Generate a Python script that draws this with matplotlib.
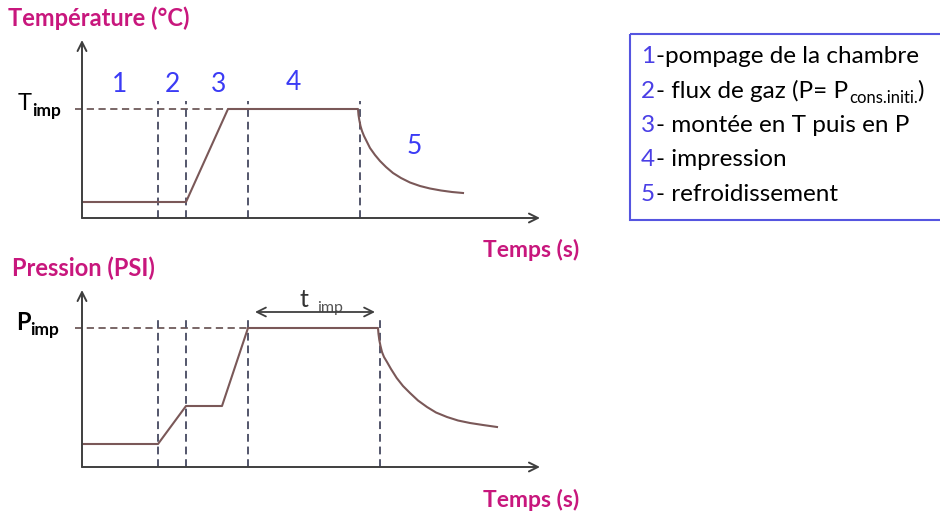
import matplotlib
matplotlib.use('Agg')
import matplotlib.pyplot as plt
from matplotlib.patches import Rectangle

plt.rcParams['font.family'] = ['Lato', 'DejaVu Sans']

# --- donnees (unites arbitraires, lues sur le schema) ---
# temperature : temps / niveau
temps_T = [0, 104, 146, 276, 276.5, 277.3, 278.5, 280, 282, 285, 288, 293, 298, 304,
           311, 319, 328, 338, 348, 359, 370, 381]
temp_T = [16, 16, 109, 109, 103, 98, 92, 87, 82, 76, 70, 63, 57, 51,
          45, 40, 35.5, 32, 29.5, 27.5, 26, 25]
phases_T = [76, 104, 166, 278]
T_imp = 109
fin_T_imp = 146

# pression : temps / niveau
temps_P = [0, 76, 104, 140, 166, 296, 296.5, 297.3, 298.5, 300, 302, 305, 309, 314.7,
           321, 328, 336, 345, 354, 365, 376, 388, 401, 415]
pres_P = [23, 23, 61, 61, 139, 139, 133, 127, 121, 115, 110, 105, 98, 89,
          81, 74, 66.5, 60, 54.5, 50, 46.5, 44, 42, 40]
phases_P = [76, 104, 166, 298]
P_imp = 139
fin_P_imp = 166
t_imp = [173, 293]

etapes = ['1', '2', '3', '4', '5']
etapes_x = [38, 90, 137, 211, 332]
etapes_y = [133, 133, 133, 136, 71]

legende_num = ['1', '2', '3', '4', '5']
# chaque ligne : liste de morceaux (texte, indice ?)
legende_txt = [[('-pompage de la chambre', False)],
               [('- flux de gaz (P= P', False), ('cons.initi.', True), (')', False)],
               [('- montée en T puis en P', False)],
               [('- impression', False)],
               [('- refroidissement', False)]]

rose = '#C8177D'
bleu = '#3B3BF5'
courbe = '#7A5858'
tirets = '#53566B'
axe = '#3F3F3F'

W, H = 940, 517
fig = plt.figure(figsize=(W / 100, H / 100), dpi=100)

# calque en pixels pour les textes
ov = fig.add_axes([0, 0, 1, 1])
ov.set_xlim(0, W)
ov.set_ylim(H, 0)
ov.axis('off')


def repere(x0, x1, y_top, y_bas):
    ax = fig.add_axes([x0 / W, (H - y_bas) / H, (x1 - x0) / W, (y_bas - y_top) / H])
    ax.set_xlim(0, x1 - x0)
    ax.set_ylim(0, y_bas - y_top)
    ax.axis('off')
    fl = dict(arrowstyle='->', color=axe, lw=1.4, shrinkA=0, shrinkB=0, mutation_scale=16)
    ax.annotate('', xy=(1, 0), xytext=(0, 0), xycoords='axes fraction', arrowprops=fl)
    ax.annotate('', xy=(0, 1), xytext=(0, 0), xycoords='axes fraction', arrowprops=fl)
    return ax


ax1 = repere(82, 540, 40, 218)
ax1.plot([-7, fin_T_imp], [T_imp, T_imp], color='#6E5A5A', lw=1.3, dashes=(4, 2.5), clip_on=False)
ax1.vlines(phases_T, 0, T_imp + 8, color=tirets, lw=1.4, linestyles=(0, (4, 2.5)))
ax1.plot(temps_T, temp_T, color=courbe, lw=1.5, solid_joinstyle='round')
for e, x, y in zip(etapes, etapes_x, etapes_y):
    ax1.text(x, y, e, color=bleu, fontsize=19, ha='center', va='center')

ax2 = repere(82, 540, 290, 467)
ax2.plot([-7, fin_P_imp], [P_imp, P_imp], color='#6E5A5A', lw=1.3, dashes=(4, 2.5), clip_on=False)
ax2.vlines(phases_P, 0, P_imp + 8, color=tirets, lw=1.4, linestyles=(0, (4, 2.5)))
ax2.plot(temps_P, pres_P, color=courbe, lw=1.5, solid_joinstyle='round')
ax2.annotate('', xy=(t_imp[1], 155), xytext=(t_imp[0], 155),
             arrowprops=dict(arrowstyle='<->', color=axe, lw=1.3, shrinkA=0, shrinkB=0,
                             mutation_scale=16))

# titres et libelles
ov.text(8, 18, 'Température (°C)', color=rose, fontsize=17, fontweight='bold', va='center')
ov.text(12, 268, 'Pression (PSI)', color=rose, fontsize=17, fontweight='bold', va='center')
ov.text(483, 250, 'Temps (s)', color=rose, fontsize=16.5, fontweight='bold', va='center')
ov.text(483, 500, 'Temps (s)', color=rose, fontsize=16.5, fontweight='bold', va='center')

ov.text(18, 110, 'T', color='black', fontsize=17, va='baseline')
ov.text(32, 116, 'imp', color='black', fontsize=12.5, fontweight='bold', va='baseline')
ov.text(16, 330, 'P', color='black', fontsize=17, fontweight='bold', va='baseline')
ov.text(30, 335, 'imp', color='black', fontsize=12.5, fontweight='bold', va='baseline')

ov.text(299, 307, 't', color='#333333', fontsize=18, va='baseline')
ov.text(317, 312, 'imp', color='#555555', fontsize=11.5, va='baseline')

# legende
ov.add_patch(Rectangle((630, 34), 330, 186, fill=False, edgecolor='#5555E0', lw=1.5, clip_on=False))
rend = fig.canvas.get_renderer()
lignes_y = [63, 98, 132, 166, 201]
for n, morceaux, y in zip(legende_num, legende_txt, lignes_y):
    tn = ov.text(641, y, n, color='#4A3FE6', fontsize=17.5, va='baseline')
    x = 641 + tn.get_window_extent(renderer=rend).width + 0.5
    for txt, indice in morceaux:
        if indice:
            t = ov.text(x + 1, y + 5, txt, color='black', fontsize=12, va='baseline')
        else:
            t = ov.text(x, y, txt, color='black', fontsize=17.5, va='baseline')
        x = x + t.get_window_extent(renderer=rend).width + (1 if indice else 0)

fig.savefig('out.png', dpi=100)
